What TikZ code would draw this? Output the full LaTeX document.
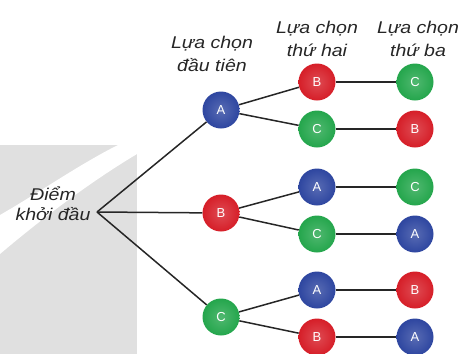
\documentclass[tikz,border=0pt]{standalone}
\usepackage{fontspec}
\setmainfont{Liberation Sans}
\newfontfamily\nhanfont[FakeStretch=1.15]{Liberation Sans}

\definecolor{xanhduong}{RGB}{46,70,160}
\definecolor{do}{RGB}{214,30,40}
\definecolor{xanhla}{RGB}{36,166,76}
\definecolor{nenxam}{RGB}{224,224,224}

\tikzset{
  nut/.style={circle,minimum size=37pt,inner sep=0pt,text=white,
    font=\fontsize{13}{13}\selectfont,shading=radial},
  nutA/.style={nut,inner color=xanhduong!80!white,outer color=xanhduong},
  nutB/.style={nut,inner color=do!80!white,outer color=do},
  nutC/.style={nut,inner color=xanhla!80!white,outer color=xanhla},
  nhan/.style={align=center,text=black!85,
    font=\nhanfont\fontsize{17}{23}\selectfont\itshape},
  canh/.style={draw=black!85,line width=1.5pt}
}

\begin{document}
\begin{tikzpicture}[x=1pt,y=-1pt]
  \useasboundingbox (0,0) rectangle (464,354);
  % nen xam phia sau
  \fill[nenxam] (0,145) rectangle (137,354);
  \fill[white] (0,215) .. controls (40,192) and (80,164) .. (118,145) -- (137,145)
    -- (137,154) .. controls (90,182) and (40,220) .. (0,254) -- cycle;

  % tieu de cac cot
  \node[nhan] (t1) at (212,54) {Lựa chọn\\đầu tiên};
  \node[nhan] (t2) at (317,39) {Lựa chọn\\thứ hai};
  \node[nhan] (t3) at (418,39) {Lựa chọn\\thứ ba};

  % diem khoi dau
  \coordinate (goc) at (97,212);
  \node[nhan,font=\nhanfont\fontsize{17}{20}\selectfont\itshape] (diem) at (53,204) {Điểm\\khởi đầu};

  % lua chon dau tien
  \node[nutA] (n1a) at (221,110) {A};
  \node[nutB] (n1b) at (221,213) {B};
  \node[nutC] (n1c) at (221,317) {C};

  % lua chon thu hai
  \node[nutB] (n2ab) at (317,82) {B};
  \node[nutC] (n2ac) at (317,129) {C};
  \node[nutA] (n2ba) at (317,187) {A};
  \node[nutC] (n2bc) at (317,234) {C};
  \node[nutA] (n2ca) at (317,290) {A};
  \node[nutB] (n2cb) at (317,337) {B};

  % lua chon thu ba
  \node[nutC] (n3abc) at (415,82) {C};
  \node[nutB] (n3acb) at (415,129) {B};
  \node[nutC] (n3bac) at (415,187) {C};
  \node[nutA] (n3bca) at (415,234) {A};
  \node[nutB] (n3cab) at (415,290) {B};
  \node[nutA] (n3cba) at (415,337) {A};

  % cac nhanh
  \draw[canh] (goc) -- (n1a);
  \draw[canh] (goc) -- (n1b);
  \draw[canh] (goc) -- (n1c);
  \draw[canh] (n1a) -- (n2ab); \draw[canh] (n1a) -- (n2ac);
  \draw[canh] (n1b) -- (n2ba); \draw[canh] (n1b) -- (n2bc);
  \draw[canh] (n1c) -- (n2ca); \draw[canh] (n1c) -- (n2cb);
  \draw[canh] (n2ab) -- (n3abc); \draw[canh] (n2ac) -- (n3acb);
  \draw[canh] (n2ba) -- (n3bac); \draw[canh] (n2bc) -- (n3bca);
  \draw[canh] (n2ca) -- (n3cab); \draw[canh] (n2cb) -- (n3cba);
\end{tikzpicture}
\end{document}
